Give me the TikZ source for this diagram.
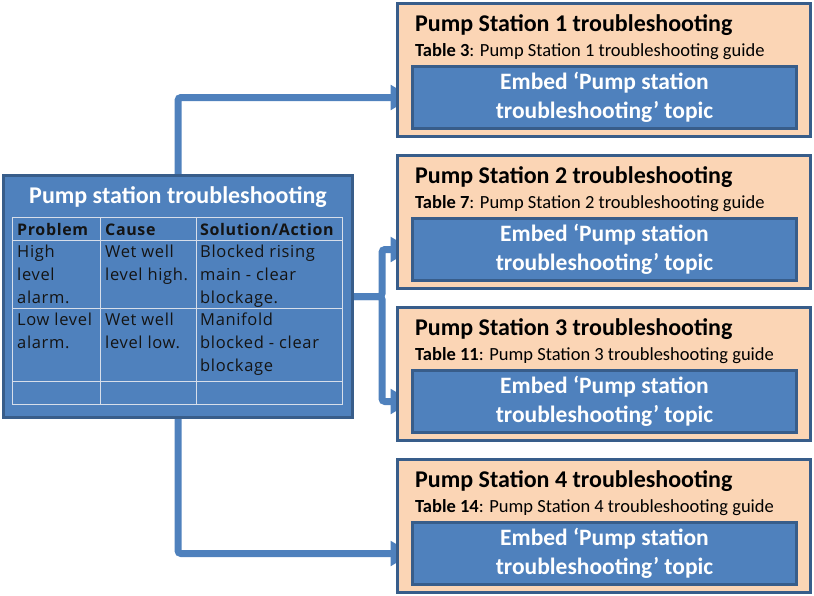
\documentclass[tikz,border=0pt]{standalone}
\usepackage{fontspec}
\setmainfont{Carlito}
\newfontfamily\tablefont[LetterSpace=4]{Open Sans}
\usetikzlibrary{arrows.meta,positioning,backgrounds}
\definecolor{boxblue}{RGB}{79,129,189}
\definecolor{edgeblue}{RGB}{56,93,138}
\definecolor{peach}{RGB}{251,213,181}
\definecolor{gridline}{RGB}{215,222,234}

% cell text with its first line on the node's baseline
\newcommand{\celllines}[1]{\begin{tabular}[t]{@{}l@{}}#1\end{tabular}}

\tikzset{
  mainbox/.style={draw=edgeblue, line width=3pt, fill=boxblue, outer sep=0pt,
    minimum width=349pt, minimum height=242pt, inner sep=0pt},
  stationbox/.style={draw=edgeblue, line width=3pt, fill=peach, outer sep=0pt,
    minimum width=413pt, minimum height=133pt, anchor=north west, inner sep=0pt},
  embedbox/.style={draw=edgeblue, line width=3pt, fill=boxblue, outer sep=0pt,
    minimum width=384pt, minimum height=62pt, anchor=north west, inner sep=0pt,
    text=white, align=center, font=\fontsize{23.5}{29}\selectfont\bfseries},
  flow/.style={draw=boxblue, line width=7pt, rounded corners=3pt,
    -{Triangle[length=22pt,width=24pt]}},
  cell/.style={anchor=base west, inner sep=0pt,
    font=\tablefont\fontsize{16.5}{23}\selectfont, text=black!92},
  headcell/.style={cell, font=\tablefont\fontsize{16}{23}\selectfont\bfseries},
}

\begin{document}
\begin{tikzpicture}[x=1pt,y=-1pt]
  \useasboundingbox (0,0) rectangle (814,595);

  % Source box with the table.
  \node[mainbox] (main) at (178,296.5) {};
  \node[anchor=base, inner sep=0pt, text=white,
    font=\fontsize{24}{28}\selectfont\bfseries] (maintitle) at (178,203)
    {Pump station troubleshooting};

  % Table grid.
  \draw[gridline, line width=1pt] (12.5,217.5) rectangle (342.5,404);
  \foreach \y in {240,308,381}
    \draw[gridline, line width=1pt] (12.5,\y) -- (342.5,\y);
  \foreach \x in {100,196}
    \draw[gridline, line width=1pt] (\x,217.5) -- (\x,404);

  % Table text.
  \node[headcell] (hprob) at (17,235) {Problem};
  \node[headcell] (hcause) at (105,235) {Cause};
  \node[headcell] (hsol) at (200,235) {Solution/Action};
  \node[cell] (prob1) at (17,257) {\celllines{High\\level\\alarm.}};
  \node[cell] (cause1) at (105,257) {\celllines{Wet well\\level high.}};
  \node[cell] (sol1) at (200,257) {\celllines{Blocked rising\\main - clear\\blockage.}};
  \node[cell] (prob2) at (17,325) {\celllines{Low level\\alarm.}};
  \node[cell] (cause2) at (105,325) {\celllines{Wet well\\level low.}};
  \node[cell] (sol2) at (200,325) {\celllines{Manifold\\blocked - clear\\blockage}};

  % Station boxes.
  \foreach \i/\tab [count=\k from 0] in {1/3, 2/7, 3/11, 4/14} {
    \node[stationbox] (ps\i) at (397.5,{3+152*\k}) {};
    \node[anchor=base west, inner sep=0pt,
      font=\fontsize{24}{28}\selectfont\bfseries] (pt\i)
      at ([shift={(17.5,28.5)}]ps\i.north west) {Pump Station \i\ troubleshooting};
    \node[anchor=base west, inner sep=0pt, font=\fontsize{18.5}{22}\selectfont] (pc\i)
      at ([shift={(17.5,53.5)}]ps\i.north west)
      {\textbf{Table \tab}: Pump Station \i\ troubleshooting guide};
    \node[embedbox] (em\i) at ([shift={(15,63.5)}]ps\i.north west)
      {Embed ‘Pump station\\troubleshooting’ topic};
  }

  % Connectors.
  \begin{scope}[on background layer]
    \coordinate (split) at ([xshift=29.5pt]main.east);
    \draw[flow] (main.north) |- (em1.west);
    \draw[flow] (main.east) -- (split) |- (em2.west);
    \draw[flow] (main.east) -- (split) |- (em3.west);
    \draw[flow] (main.south) |- (em4.west);
  \end{scope}

\end{tikzpicture}
\end{document}
